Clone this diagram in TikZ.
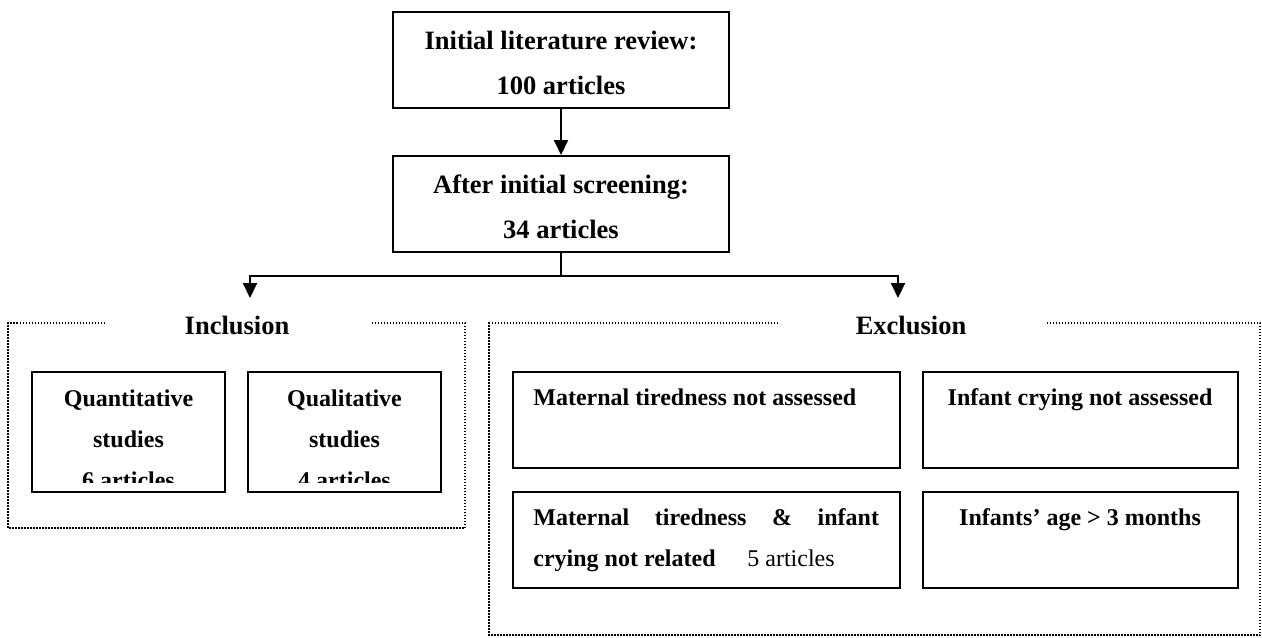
\documentclass[tikz,border=0pt]{standalone}
\usepackage{fontspec}
\setmainfont{Liberation Serif}
\usetikzlibrary{arrows.meta}
\begin{document}
\begin{tikzpicture}[x=0.5pt,y=-0.5pt,
  box/.style={draw, line width=1pt, inner sep=0pt},
  frame/.style={line width=0.75pt, dash pattern=on 0.75pt off 0.75pt},
  conn/.style={line width=1pt},
  arr/.style={conn, -{Triangle[length=7.5pt,width=7pt]}},
  big/.style={font=\fontsize{13.25}{22.5}\selectfont\bfseries, inner sep=0pt},
  small/.style={font=\fontsize{12}{20.5}\selectfont\bfseries, inner sep=0pt},
  smallreg/.style={font=\fontsize{12}{20.5}\selectfont, inner sep=0pt},
  ]
\useasboundingbox (0,0) rectangle (1262,637);

% top boxes
\node[box, minimum width=168pt, minimum height=48pt] (b1) at (561,60) {};
\node[big, anchor=base] (t1a) at (561,49) {Initial literature review:};
\node[big, anchor=base] (t1b) at (561,94) {100 articles};

\node[box, minimum width=168pt, minimum height=48pt] (b2) at (561,204) {};
\node[big, anchor=base] (t2a) at (561,193) {After initial screening:};
\node[big, anchor=base] (t2b) at (561,238) {34 articles};

% connectors
\coordinate (j) at (561,276);
\coordinate (el) at (250,298);
\coordinate (er) at (898,298);
\draw[arr] (b1.south) -- (b2.north);
\draw[conn] (b2.south) -- (j);
\draw[arr] (j) -| (el);
\draw[arr] (j) -| (er);

% inclusion frame
\draw[frame] (105,323) -- (8,323) -- (8,528) -- (465,528) -- (465,323) -- (371,323);
\node[big, anchor=base] (inc) at (237,334) {Inclusion};

\node[box, minimum width=96.5pt, minimum height=60pt] (q1) at (128.5,432) {};
\node[box, minimum width=96.5pt, minimum height=60pt] (q2) at (344.5,432) {};
\begin{scope}
  \clip (20,360) rectangle (460,482);
  \node[small, anchor=base] (q1a) at (128.5,406) {Quantitative};
  \node[small, anchor=base] (q1b) at (128.5,447) {studies};
  \node[small, anchor=base] (q1c) at (128.5,488) {6 articles};
  \node[small, anchor=base] (q2a) at (344.5,406) {Qualitative};
  \node[small, anchor=base] (q2b) at (344.5,447) {studies};
  \node[small, anchor=base] (q2c) at (344.5,488) {4 articles};
\end{scope}

% exclusion frame
\draw[frame] (778,323) -- (489,323) -- (489,635) -- (1260,635) -- (1260,323) -- (1045,323);
\node[big, anchor=base] (exc) at (911,334) {Exclusion};

\node[box, minimum width=193.5pt, minimum height=48pt] (xa) at (706,420) {};
\node[box, minimum width=157.5pt, minimum height=48pt] (xb) at (1080.5,420) {};
\node[box, minimum width=193.5pt, minimum height=48pt] (xc) at (706,540) {};
\node[box, minimum width=157.5pt, minimum height=48pt] (xd) at (1080.5,540) {};

\node[small, anchor=base west] (xat) at (533,405) {Maternal tiredness not assessed};
\node[small, anchor=base] (xbt) at (1080,405) {Infant crying not assessed};
\node[small, anchor=base west] (xct1) at (533,525) {\makebox[172.8pt][s]{Maternal tiredness \& infant}};
\node[small, anchor=base west] (xct2) at (533,566) {crying not related};
\node[smallreg, anchor=base west] (xct3) at (747,566) {5 articles};
\node[small, anchor=base] (xdt) at (1080,525) {Infants’ age > 3 months};
\end{tikzpicture}
\end{document}
